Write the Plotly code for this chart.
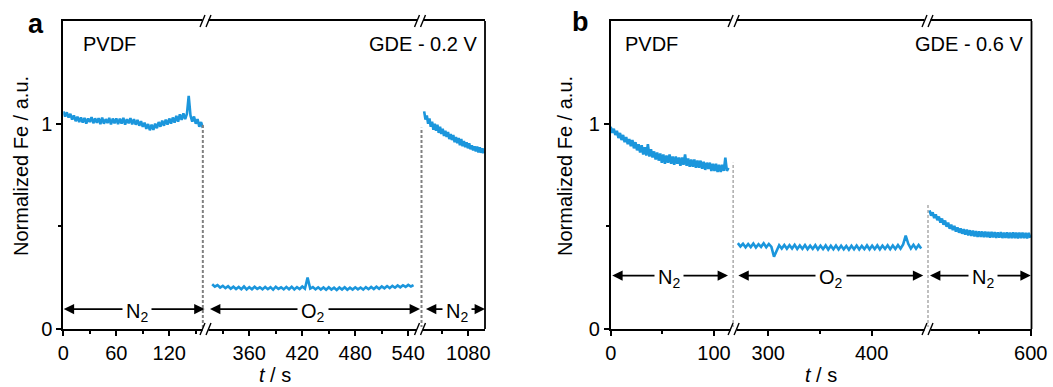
import plotly.graph_objects as go

W, H = 1053, 387
FONT = "Liberation Sans, Arial, sans-serif"
BLUE = "#1b96dc"
GREY = "#808080"

# ---------------- data (normalized Fe signal) ----------------
# panel a, segment 1 (N2), t = 0..158 s every 2 s
a1_t0, a1_dt = 0.0, 2.0
a1_y = [1.06, 1.035, 1.055, 1.03, 1.048, 1.02, 1.04, 1.012, 1.034, 1.008,
        1.03, 1.005, 1.028, 1.0, 1.025, 1.008, 1.032, 1.002, 1.026, 1.004,
        1.027, 0.998, 1.03, 1.0, 1.022, 1.003, 1.028, 0.996, 1.025, 1.002,
        1.026, 0.998, 1.024, 1.0, 1.028, 0.995, 1.022, 1.002, 1.027, 0.997,
        1.022, 0.995, 1.018, 0.99, 1.012, 0.985, 1.005, 0.975, 0.998, 0.968,
        0.995, 0.97, 1.0, 0.978, 1.008, 0.985, 1.015, 0.99, 1.02, 0.995,
        1.025, 1.0, 1.03, 1.005, 1.038, 1.01, 1.045, 1.018, 1.05, 1.022,
        1.048, 1.135, 1.04, 1.01, 1.035, 1.0, 1.022, 0.985, 1.008, 0.98]
# panel a, segment 2 (O2), t = 318..546 s every 3 s
a2_t0, a2_dt = 318.0, 3.0
a2_y = [0.218, 0.206, 0.214, 0.202, 0.210, 0.199, 0.208, 0.196, 0.206, 0.195,
        0.205, 0.194, 0.207, 0.193, 0.204, 0.194, 0.206, 0.195, 0.203, 0.193,
        0.205, 0.194, 0.204, 0.192, 0.206, 0.195, 0.203, 0.193, 0.205, 0.194,
        0.206, 0.193, 0.204, 0.195, 0.207, 0.196, 0.250, 0.197, 0.204, 0.193,
        0.203, 0.192, 0.202, 0.191, 0.203, 0.192, 0.201, 0.190, 0.202, 0.192,
        0.203, 0.191, 0.201, 0.192, 0.203, 0.193, 0.202, 0.192, 0.204, 0.194,
        0.205, 0.195, 0.206, 0.196, 0.207, 0.198, 0.209, 0.199, 0.210, 0.201,
        0.212, 0.203, 0.213, 0.205, 0.215, 0.207, 0.214]
# panel a, segment 3 (N2), t = 1030..1097.5 s every 1.5 s
a3_t0, a3_dt = 1030.0, 1.5
a3_y = [1.06, 1.02, 1.04, 1.0, 1.025, 0.985, 1.01, 0.97, 1.0, 0.965,
        0.995, 0.955, 0.985, 0.95, 0.975, 0.94, 0.965, 0.935, 0.96, 0.925,
        0.95, 0.92, 0.945, 0.91, 0.935, 0.905, 0.93, 0.895, 0.925, 0.89,
        0.915, 0.885, 0.91, 0.88, 0.905, 0.875, 0.895, 0.87, 0.89, 0.865,
        0.888, 0.86, 0.885, 0.858, 0.88, 0.855]
# panel b, segment 1 (N2), t = 0..114 s every 1.5 s
b1_t0, b1_dt = 0.0, 1.5
b1_y = [0.985, 0.955, 0.975, 0.945, 0.965, 0.93, 0.955, 0.92, 0.945, 0.91,
        0.935, 0.9, 0.925, 0.89, 0.92, 0.88, 0.91, 0.87, 0.9, 0.86,
        0.895, 0.85, 0.885, 0.845, 0.9, 0.84, 0.875, 0.835, 0.865, 0.825,
        0.86, 0.82, 0.855, 0.81, 0.85, 0.805, 0.845, 0.81, 0.85, 0.805,
        0.84, 0.8, 0.84, 0.805, 0.835, 0.795, 0.835, 0.8, 0.85, 0.795,
        0.83, 0.79, 0.825, 0.79, 0.825, 0.785, 0.82, 0.785, 0.82, 0.78,
        0.815, 0.775, 0.81, 0.78, 0.81, 0.77, 0.805, 0.77, 0.805, 0.765,
        0.8, 0.765, 0.8, 0.77, 0.835, 0.77, 0.785]
# panel b, segment 2 (O2), t = 270.5..448 s every 2.5 s
b2_t0, b2_dt = 270.5, 2.5
b2_y = [0.418, 0.402, 0.415, 0.398, 0.414, 0.399, 0.416, 0.397, 0.413, 0.400,
        0.417, 0.398, 0.414, 0.400, 0.352, 0.382, 0.408, 0.392, 0.409, 0.391,
        0.408, 0.392, 0.410, 0.390, 0.407, 0.391, 0.409, 0.389, 0.406, 0.390,
        0.408, 0.388, 0.406, 0.389, 0.407, 0.387, 0.405, 0.388, 0.406, 0.387,
        0.405, 0.388, 0.404, 0.386, 0.405, 0.388, 0.406, 0.387, 0.405, 0.389,
        0.407, 0.388, 0.406, 0.389, 0.407, 0.388, 0.406, 0.390, 0.408, 0.389,
        0.407, 0.390, 0.409, 0.391, 0.412, 0.455, 0.415, 0.392, 0.410, 0.391,
        0.409, 0.392]
# panel b, segment 3 (N2), t = 502..599.5 s every 1.5 s
b3_t0, b3_dt = 502.0, 1.5
b3_y = [0.578, 0.552, 0.568, 0.540, 0.558, 0.530, 0.548, 0.518, 0.538, 0.508,
        0.528, 0.498, 0.518, 0.488, 0.508, 0.482, 0.502, 0.474, 0.495, 0.469,
        0.490, 0.464, 0.486, 0.460, 0.484, 0.456, 0.481, 0.453, 0.479, 0.451,
        0.477, 0.449, 0.476, 0.448, 0.475, 0.447, 0.474, 0.447, 0.473, 0.445,
        0.473, 0.446, 0.472, 0.444, 0.471, 0.445, 0.472, 0.443, 0.470, 0.444,
        0.471, 0.443, 0.470, 0.442, 0.471, 0.443, 0.469, 0.441, 0.470, 0.443,
        0.469, 0.442, 0.468, 0.441, 0.468, 0.444]

# axis ticks
a_major = [[0, 60, 120], [360, 420, 480, 540], [1080]]
a_minor = [[30, 90, 150], [330, 390, 450, 510], [1050]]
b_major = [[0, 100], [300, 400], [600]]
b_minor = [[50], [350], [550]]

# ---------------- layout geometry ----------------
def fx(p):
    return p / W


def fy(p):
    return 1 - p / H


Y_DOM = [fy(329), fy(21)]
# (left px, right px, data range)
a_segs = [(63.3, 204.6, [0, 160]), (204.6, 420.0, [309.4, 553.3]), (420.0, 485.0, [1025.3, 1098.9])]
b_segs = [(610.7, 733.6, [0, 119]), (733.6, 927.5, [266.4, 454.1]), (927.5, 1031.5, [500.0, 600.7])]

fig = go.Figure()

series = [(a1_t0, a1_dt, a1_y, "x", "y"), (a2_t0, a2_dt, a2_y, "x2", "y"), (a3_t0, a3_dt, a3_y, "x3", "y"),
          (b1_t0, b1_dt, b1_y, "x4", "y2"), (b2_t0, b2_dt, b2_y, "x5", "y2"), (b3_t0, b3_dt, b3_y, "x6", "y2")]
for t0, dt, ys, xa, ya in series:
    ts = [t0 + dt * i for i in range(len(ys))]
    fig.add_trace(go.Scatter(x=ts, y=ys, xaxis=xa, yaxis=ya, mode="lines",
                             line=dict(color=BLUE, width=2.6), showlegend=False, hoverinfo="skip"))

tickfont = dict(family=FONT, size=20, color="black")
layout = dict(width=W, height=H, margin=dict(l=0, r=0, t=0, b=0, pad=0), autosize=False,
              paper_bgcolor="white", plot_bgcolor="white", showlegend=False)

allsegs = [(s, "y", a_major[i], a_minor[i]) for i, s in enumerate(a_segs)] + \
          [(s, "y2", b_major[i], b_minor[i]) for i, s in enumerate(b_segs)]
for i, ((l, r, rng), ya, maj, mnr) in enumerate(allsegs):
    name = "xaxis" if i == 0 else "xaxis%d" % (i + 1)
    layout[name] = dict(domain=[fx(l), fx(r)], range=rng, anchor=ya, automargin=False,
                        showline=True, linecolor="black", linewidth=1.8, mirror=True,
                        ticks="outside", ticklen=5, tickwidth=1.6, tickcolor="black",
                        tickmode="array", tickvals=maj, ticktext=[str(v) for v in maj],
                        minor=dict(tickmode="array", tickvals=mnr, ticks="outside", ticklen=3,
                                   tickwidth=1.6, tickcolor="black", showgrid=False),
                        showgrid=False, zeroline=False, tickfont=tickfont, fixedrange=True)

for name, anchor in [("yaxis", "x"), ("yaxis2", "x4")]:
    layout[name] = dict(domain=Y_DOM, range=[0, 1.5], anchor=anchor, automargin=False,
                        showline=True, linecolor="black", linewidth=1.8, mirror=False,
                        ticks="outside", ticklen=5, tickwidth=1.6, tickcolor="black",
                        tickmode="array", tickvals=[0, 1], ticktext=["0", "1"],
                        minor=dict(tickmode="array", tickvals=[0.5], ticks="outside", ticklen=3,
                                   tickwidth=1.6, tickcolor="black", showgrid=False),
                        showgrid=False, zeroline=False, tickfont=tickfont, fixedrange=True)

shapes = []
# right borders
for xr in (485.0, 1031.5):
    shapes.append(dict(type="line", xref="paper", yref="paper", x0=fx(xr), x1=fx(xr),
                       y0=fy(329), y1=fy(21), line=dict(color="black", width=1.8)))
# dashed gas-switch lines (data coords)
for xa, ya, xv, ytop in [("x", "y", 158, 1.0), ("x3", "y", 1027, 0.98),
                         ("x4", "y2", 119, 0.81), ("x6", "y2", 500, 0.61)]:
    shapes.append(dict(type="line", xref=xa, yref=ya, x0=xv, x1=xv, y0=-0.02, y1=ytop,
                       line=dict(color=GREY, width=2, dash="3px,2px")))
# axis break marks
for xb in (205.5, 420.0, 733.6, 927.5):
    for yb in (21, 329):
        shapes.append(dict(type="line", xref="paper", yref="paper", x0=fx(xb - 3), x1=fx(xb + 3),
                           y0=fy(yb), y1=fy(yb), line=dict(color="white", width=4)))
        for dx in (-3, 3):
            shapes.append(dict(type="line", xref="paper", yref="paper",
                               x0=fx(xb + dx - 2.5), x1=fx(xb + dx + 2.5),
                               y0=fy(yb + 6), y1=fy(yb - 6), line=dict(color="black", width=1.4)))
layout["shapes"] = shapes

ann = []
lab_font = dict(family=FONT, size=20, color="black")
# arrows: (xaxis, yaxis, yval, tipL, label_x, tipR, text)
arrows = [("x", "y", 0.097, 0.5, 84, 160, "N<sub>2</sub>"),
          ("x2", "y", 0.097, 315.5, 431.6, 553.3, "O<sub>2</sub>"),
          ("x3", "y", 0.097, 1032, 1067, 1098.9, "N<sub>2</sub>"),
          ("x4", "y2", 0.26, 1.5, 56.4, 113.6, "N<sub>2</sub>"),
          ("x5", "y2", 0.26, 271, 360.7, 450, "O<sub>2</sub>"),
          ("x6", "y2", 0.26, 502.4, 553.7, 600, "N<sub>2</sub>")]
for xa, ya, yv, tl, lx, tr, txt in arrows:
    for tip in (tl, tr):
        ann.append(dict(x=tip, y=yv, ax=lx, ay=yv, xref=xa, yref=ya, axref=xa, ayref=ya,
                        text="", showarrow=True, arrowhead=2, arrowsize=1.3, arrowwidth=1.6,
                        arrowcolor="black"))
for xa, ya, yv, tl, lx, tr, txt in arrows:
    ann.append(dict(x=lx, y=yv, xref=xa, yref=ya, text=txt, showarrow=False, font=lab_font,
                    bgcolor="white", borderpad=3, yshift=-3))

# texts
def txt(x, y, s, size=20, xanchor="center", bold=False, angle=0):
    ann.append(dict(x=fx(x), y=fy(y), xref="paper", yref="paper", text=s, showarrow=False,
                    xanchor=xanchor, yanchor="middle", textangle=angle,
                    font=dict(family=FONT, size=size, color="black",
                              weight="bold" if bold else "normal")))

txt(36, 24, "a", size=27, bold=True)
txt(580, 22, "b", size=27, bold=True)
txt(81, 44, "PVDF", xanchor="left")
txt(479, 44, "GDE - 0.2 V", xanchor="right")
txt(623, 44, "PVDF", xanchor="left")
txt(1025, 44, "GDE - 0.6 V", xanchor="right")
txt(21, 166, "Normalized Fe / a.u.", angle=-90)
txt(565, 166, "Normalized Fe / a.u.", angle=-90)
txt(274.5, 375, "<i>t</i> / s")
txt(821, 375, "<i>t</i> / s")
layout["annotations"] = ann

fig.update_layout(**layout)
fig.write_html("out.html")
